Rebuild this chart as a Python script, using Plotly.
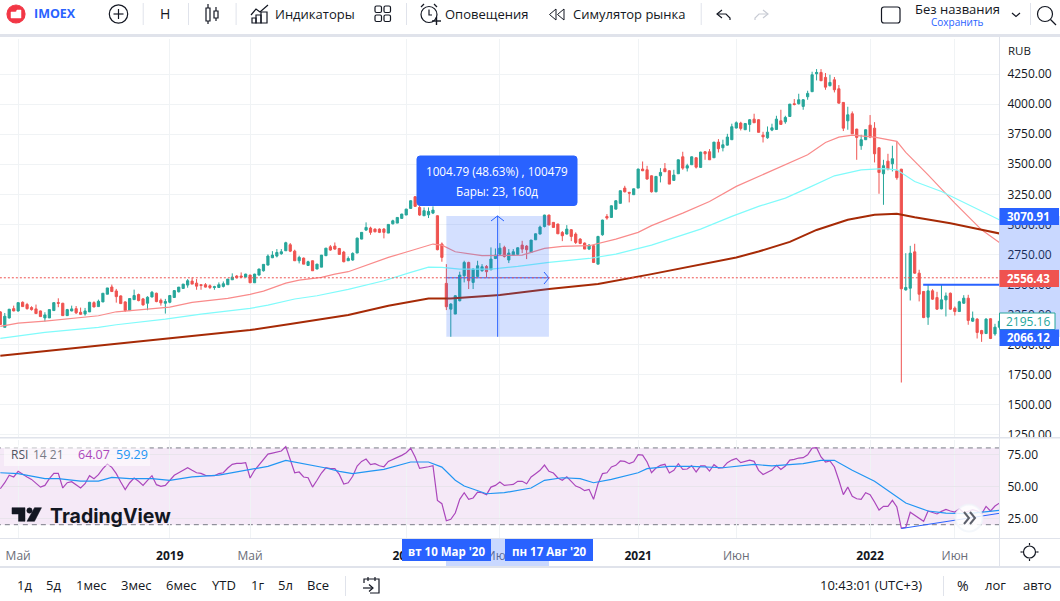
import plotly.graph_objects as go

W, H = 1060, 601
UI_FONT = "Open Sans"

# weekly IMOEX candles
opens = [2273,2145,2223,2300,2281,2353,2334,2309,2298,2281,2223,2223,2284,2350,2345,2242,2281,2300,2270,2256,
         2273,2350,2317,2356,2420,2480,2447,2406,2356,2284,2375,2417,2381,2345,2397,2428,2370,2345,2353,2393,
         2440,2468,2496,2529,2512,2499,2499,2490,2476,2476,2485,2499,2540,2571,2571,2562,2579,2515,2579,2615,
         2662,2723,2737,2756,2781,2831,2778,2698,2720,2659,2698,2629,2645,2740,2814,2820,2800,2770,2698,2704,
         2762,2878,2953,2970,2961,2961,2961,2928,3005,3011,3050,3078,3133,3230,3141,3072,3080,3094,3072,2837,
         2510,2296,2255,2366,2574,2684,2518,2568,2615,2651,2623,2717,2753,2809,2704,2745,2751,2828,2820,2767,
         2872,2920,2983,3078,3017,3003,2933,2920,2956,2920,2878,2845,2795,2823,2670,2914,3066,3058,3127,3175,
         3302,3266,3247,3302,3460,3454,3404,3271,3404,3463,3446,3366,3421,3562,3468,3496,3554,3474,3604,3604,
         3554,3684,3637,3659,3704,3801,3842,3787,3831,3875,3870,3742,3720,3784,3789,3861,3853,3897,4003,4003,
         3981,4061,4103,4252,4263,4222,4153,4202,4127,4014,3861,3920,3792,3654,3704,3825,3800,3637,3421,3526,
         3504,3446,3459,2456,2470,2772,2595,2443,2229,2448,2392,2298,2373,2428,2304,2276,2345,2387,2196,2213,
         2118,2093,2216,2090,2146]
highs = [2280,2264,2298,2325,2350,2360,2348,2320,2334,2284,2270,2292,2352,2386,2348,2298,2325,2322,2309,2306,
         2356,2361,2375,2428,2472,2500,2464,2410,2361,2384,2458,2425,2389,2403,2447,2433,2384,2381,2413,2454,
         2479,2504,2546,2560,2546,2504,2512,2501,2490,2518,2526,2546,2593,2579,2601,2590,2582,2590,2632,2668,
         2751,2778,2795,2795,2856,2845,2790,2740,2725,2698,2700,2672,2745,2803,2828,2850,2805,2780,2734,2768,
         2890,2936,3017,2981,2967,2967,2970,3002,3039,3060,3088,3130,3200,3235,3155,3141,3141,3150,3075,2850,
         2670,2346,2413,2607,2698,2690,2634,2698,2670,2662,2809,2800,2845,2823,2795,2795,2809,2864,2828,2870,
         2925,2990,3080,3080,3020,3006,2945,2994,2961,2934,2886,2850,2836,2828,2905,3039,3086,3158,3200,3282,
         3321,3271,3298,3463,3523,3487,3408,3402,3468,3510,3450,3454,3540,3604,3504,3565,3558,3604,3607,3626,
         3684,3709,3704,3753,3837,3856,3853,3842,3875,3920,3875,3770,3814,3837,3903,3953,3903,4000,4042,4086,
         4042,4111,4269,4291,4291,4258,4244,4225,4158,4017,3978,3939,3795,3745,3790,3909,3850,3640,3537,3587,
         3654,3690,3462,2761,2822,2839,2623,2445,2498,2462,2440,2498,2434,2434,2318,2365,2412,2415,2276,2221,
         2124,2221,2221,2174,2200]
lows = [2165,2145,2218,2278,2275,2315,2292,2284,2259,2234,2193,2223,2284,2312,2242,2242,2278,2256,2248,2242,
        2273,2312,2317,2354,2420,2442,2350,2342,2273,2284,2375,2361,2325,2287,2394,2353,2325,2259,2345,2390,
        2435,2465,2474,2504,2457,2457,2476,2463,2457,2476,2476,2499,2540,2551,2554,2560,2515,2515,2575,2608,
        2660,2720,2726,2748,2781,2770,2698,2676,2670,2656,2615,2629,2645,2738,2781,2790,2751,2685,2698,2698,
        2762,2876,2947,2914,2934,2928,2884,2928,3000,3011,3050,3078,3133,3145,3072,3072,3053,3086,2785,2690,
        2288,2066,2255,2360,2518,2463,2463,2560,2607,2560,2620,2712,2740,2725,2679,2740,2745,2762,2712,2767,
        2872,2918,2975,2995,2975,2922,2861,2917,2861,2837,2836,2795,2787,2679,2670,2906,3039,3058,3127,3175,
        3266,3183,3247,3302,3443,3372,3265,3268,3349,3436,3335,3366,3421,3454,3440,3496,3465,3474,3537,3537,
        3554,3598,3607,3656,3704,3798,3781,3787,3770,3845,3765,3681,3712,3775,3789,3831,3837,3897,3989,3997,
        3953,4036,4103,4197,4194,4119,4147,4097,4006,3776,3787,3753,3537,3620,3704,3717,3515,3255,3163,3449,
        3440,3371,1686,2450,2368,2590,2360,2221,2165,2373,2290,2295,2235,2290,2243,2276,2340,2166,2190,2052,
        2024,2090,2047,2075,2140]
closes = [2168,2237,2295,2281,2350,2317,2300,2292,2259,2234,2248,2292,2350,2345,2242,2292,2298,2265,2253,2281,
          2353,2314,2361,2428,2472,2442,2400,2342,2284,2384,2409,2367,2331,2395,2436,2359,2348,2359,2409,2450,
          2479,2504,2532,2504,2487,2493,2479,2476,2482,2499,2507,2546,2562,2557,2562,2587,2515,2587,2629,2668,
          2737,2745,2767,2773,2848,2778,2698,2726,2670,2690,2615,2670,2745,2803,2787,2795,2751,2690,2717,2759,
          2886,2934,2975,2934,2939,2934,2934,3000,3030,3058,3086,3127,3197,3150,3078,3114,3108,3119,2790,2726,
          2316,2338,2407,2579,2684,2532,2629,2656,2648,2607,2712,2745,2803,2734,2762,2773,2806,2795,2790,2870,
          2922,2978,3078,2995,2975,2922,2906,2961,2900,2850,2842,2795,2828,2684,2900,3036,3053,3155,3197,3280,
          3271,3260,3296,3460,3446,3377,3271,3399,3432,3438,3335,3410,3537,3468,3488,3562,3476,3601,3587,3537,
          3684,3629,3662,3726,3812,3845,3798,3839,3870,3845,3765,3728,3767,3803,3875,3831,3889,4000,3997,4036,
          4036,4089,4244,4263,4194,4141,4180,4119,4008,3800,3911,3753,3723,3704,3787,3726,3587,3432,3488,3460,
          3546,3388,2465,2476,2761,2595,2420,2226,2448,2379,2296,2373,2406,2296,2276,2357,2387,2202,2221,2102,
          2091,2213,2052,2146,2195.16]
bar_idx = list(range(len(closes)))

# moving averages, vertices taken along each line
red_ma_x = [0,4,10,19,22,26,34,38,43,51,56,59,64,67,72,75,78,87,92,97,99,102,108,113,117,122,126,132,138,143,146,
            153,159,165,170,175,181,185,188,191,196,201,203,208,214,220,224]
red_ma_y = [2152,2180,2197,2227,2241,2274,2296,2313,2352,2385,2418,2446,2512,2537,2560,2587,2607,2726,2781,2837,2828,
            2773,2740,2740,2745,2801,2817,2823,2878,2934,2990,3094,3191,3316,3399,3476,3579,3681,3726,3742,3726,3690,
            3598,3412,3177,2955,2850]
cyan_ma_x = [0,10,22,26,37,45,56,60,66,71,78,86,92,96,99,103,110,116,123,132,138,146,157,164,170,176,181,187,193,198,
             201,205,211,214,220,224]
cyan_ma_y = [2053,2102,2144,2166,2213,2255,2302,2330,2380,2407,2460,2532,2601,2645,2643,2629,2629,2651,2684,2717,2753,
             2828,2961,3067,3150,3219,3302,3404,3454,3463,3454,3357,3274,3218,3107,3038]
dark_ma_x = [0,11,22,37,56,65,78,87,96,101,112,123,134,146,155,165,170,177,183,190,196,201,205,213,220,224]
dark_ma_y = [1909,1950,1997,2047,2122,2172,2247,2324,2385,2385,2413,2463,2504,2587,2650,2725,2775,2855,2954,3039,3080,
             3089,3060,3010,2955,2925]

rsi_values = [48.1,52.8,58.6,57.3,61.7,59.3,57.3,55.4,52.6,49.4,50.7,56.0,60.1,60.1,48.7,52.8,53.6,51.3,48.7,52.0,
              58.3,56.0,59.1,63.8,67.4,64.8,59.9,53.4,47.4,52.8,56.5,53.9,50.7,54.7,58.3,51.3,50.0,50.7,54.7,58.6,
              60.6,62.7,64.5,62.5,60.6,60.1,58.6,58.3,58.3,59.9,60.6,64.3,67.2,67.9,67.9,68.5,56.5,62.5,66.9,71.1,
              75.2,76.0,76.8,77.6,81.0,71.6,60.6,61.2,57.3,56.7,49.4,54.7,60.4,64.5,63.8,63.8,59.3,51.8,52.8,57.8,
              65.9,69.5,71.3,66.9,67.7,66.1,65.3,69.5,70.8,72.6,74.2,76.3,79.7,72.9,64.0,64.5,65.3,66.1,39.0,36.4,
              23.1,24.2,29.1,39.8,45.0,39.8,40.9,45.5,45.0,43.5,49.4,50.7,53.4,50.7,51.3,51.5,53.9,53.9,52.0,57.3,
              59.9,62.5,66.6,61.7,60.4,56.5,54.7,57.5,53.9,50.2,48.9,46.6,47.6,39.8,52.0,59.9,60.6,65.1,66.4,69.8,
              69.5,67.7,69.2,74.7,74.4,69.0,60.6,64.3,66.4,67.2,60.4,62.5,67.7,63.2,63.5,66.1,61.2,65.9,65.9,61.9,
              66.9,64.3,64.5,68.5,70.5,71.8,68.5,69.5,70.5,69.5,62.5,59.3,60.9,62.7,66.4,63.2,65.9,70.5,71.1,72.1,
              72.4,74.7,79.9,80.2,72.9,69.0,69.8,65.1,54.7,43.5,49.4,42.2,40.3,39.8,45.0,43.5,37.7,31.5,34.3,34.3,
              39.0,33.8,17.4,17.9,29.7,27.3,25.0,22.6,30.7,29.4,28.4,30.4,32.0,30.7,29.9,32.5,29.4,30.4,31.7,30.7,
              28.4,34.3,30.7,34.6,36.9]
rsi_ma_x = [0,4,7,10,13,18,22,25,29,34,38,43,49,55,60,64,70,73,76,79,83,86,92,96,99,102,104,109,113,119,122,126,130,133,
            137,143,145,150,155,162,169,173,180,184,187,191,196,200,203,208,212,217,224]
rsi_ma_y = [60.6,59.9,58.0,56.0,56.0,54.1,54.1,57.0,56.0,56.0,54.7,57.3,58.8,62.7,65.6,70.3,66.4,64.3,61.7,59.9,61.9,63.2,
            69.0,69.0,65.0,54.7,50.2,44.2,45.0,48.7,54.7,56.7,56.0,52.8,55.4,60.6,63.8,65.6,65.6,64.5,67.2,65.9,67.7,70.3,
            70.3,62.5,53.9,44.2,36.9,30.7,29.1,28.6,31.2]

price_ticks = [1250,1500,1750,2000,2250,2500,2750,3000,3250,3500,3750,4000,4250]
rsi_ticks = [25,50,75]
time_ticks = [4,38,56,91,112,143,165,195,214]
time_labels = ["Май","2019","Май","2020","Июн","2021","Июн","2022","Июн"]

# drawing objects on the chart
range_start, range_end = 100, 123
range_low, range_high = 2066.12, 3070.91
last_line = 2556.43
level_x = [206.9,224]
level_y = [2499,2499]
rsi_trend_x = [202,224]
rsi_trend_y = [17.0,28.9]


def px(x):
    return x / W


def py(y):
    return 1 - y / H


def poly(points, close=False):
    d = "M" + " L".join(f"{px(x):.5f},{py(y):.5f}" for x, y in points)
    return d + (" Z" if close else "")


def rrect(x0, y0, x1, y1, r=3):
    # rounded box, corners done with quadratic curves
    def q(a, b, c, d):
        return f"Q{px(a):.5f},{py(b):.5f} {px(c):.5f},{py(d):.5f}"
    return (f"M{px(x0 + r):.5f},{py(y0):.5f} L{px(x1 - r):.5f},{py(y0):.5f} {q(x1, y0, x1, y0 + r)} "
            f"L{px(x1):.5f},{py(y1 - r):.5f} {q(x1, y1, x1 - r, y1)} "
            f"L{px(x0 + r):.5f},{py(y1):.5f} {q(x0, y1, x0, y1 - r)} "
            f"L{px(x0):.5f},{py(y0 + r):.5f} {q(x0, y0, x0 + r, y0)} Z")


shapes = []
annots = []


def add_path(d, color="#131722", width=1.2, fill=None):
    shapes.append(dict(type="path", path=d, xref="paper", yref="paper", layer="above",
                       line=dict(color=color, width=width), fillcolor=fill or "rgba(0,0,0,0)"))


def add_rect(x0, y0, x1, y1, fill, line=None):
    shapes.append(dict(type="rect", xref="paper", yref="paper", layer="above",
                       x0=px(x0), x1=px(x1), y0=py(y0), y1=py(y1), fillcolor=fill,
                       line=dict(width=1 if line else 0, color=line or "rgba(0,0,0,0)")))


def add_circle(cx, cy, r, color="#131722", width=1.2, fill=None):
    shapes.append(dict(type="circle", xref="paper", yref="paper", layer="above",
                       x0=px(cx - r), x1=px(cx + r), y0=py(cy - r), y1=py(cy + r),
                       fillcolor=fill or "rgba(0,0,0,0)", line=dict(color=color, width=width)))


def add_text(x, y, text, size=13, color="#131722", anchor="center", family=UI_FONT):
    annots.append(dict(x=px(x), y=py(y), xref="paper", yref="paper", text=text, showarrow=False,
                       xanchor=anchor, yanchor="middle", font=dict(size=size, color=color, family=family)))


SEP = "#e0e3eb"
BLUE = "#2962ff"
RED = "#ef5350"
TEAL = "#26a69a"

# panel frame lines
add_rect(0, 34, W, 37, SEP)
add_rect(999, 438, W, 445, "#ffffff")
add_rect(0, 437, W, 438.5, SEP)
add_rect(0, 538, W, 539, SEP)
add_rect(0, 566, W, 568, SEP)
add_rect(999, 37, 1000, 566, SEP)

# top toolbar
for sx in [142.7, 188, 235.6, 406, 700.7, 1030]:
    add_rect(sx, 3, sx + 1, 25, SEP)
add_circle(16, 14, 9, color="#f23645", fill="#f23645")
add_path(poly([(11, 12), (16, 12), (17, 10), (21, 10), (21, 18), (11, 18)], True), color="#ffffff", width=0.5, fill="#ffffff")
add_text(32, 14, "<b>IMOEX</b>", 12.5, "#2962ff", "left")
add_circle(118.5, 14, 9.2)
add_path(poly([(113.5, 14), (123.5, 14)]))
add_path(poly([(118.5, 9), (118.5, 19)]))
add_text(165, 14, "Н", 14)
add_path(poly([(206, 8), (210, 8), (210, 21), (206, 21)], True))
add_path(poly([(208, 4), (208, 8)]))
add_path(poly([(208, 21), (208, 24)]))
add_path(poly([(214, 11), (218, 11), (218, 18), (214, 18)], True))
add_path(poly([(216, 7), (216, 11)]))
add_path(poly([(216, 18), (216, 21)]))
add_path(poly([(251, 15), (256, 9), (260, 12), (268, 5)]))
add_path(poly([(252, 18), (256, 18), (256, 23), (252, 23)], True))
add_path(poly([(256, 15), (261, 15), (261, 23), (256, 23)], True))
add_path(poly([(261, 12), (267, 12), (267, 23), (261, 23)], True))
add_text(314.5, 14, "Индикаторы", 13)
for gx, gy in [(375, 6), (384, 6), (375, 15), (384, 15)]:
    add_path(rrect(gx, gy, gx + 6.5, gy + 6.5, 1.5))
add_circle(429, 14.5, 8)
add_path(poly([(429, 9.5), (429, 15), (432, 15)]))
add_path(poly([(421, 7), (424, 4)]))
add_path(poly([(434, 4), (437, 7)]))
add_path(poly([(432, 21), (441, 21)]), width=1.4)
add_path(poly([(436.5, 17), (436.5, 25)]), width=1.4)
add_text(486.5, 14, "Оповещения", 13)
add_path(poly([(556, 9), (549.5, 14.5), (556, 20)], True), width=1)
add_path(poly([(564, 9), (557.5, 14.5), (564, 20)], True), width=1)
add_text(629, 14, "Симулятор рынка", 13)
add_path(poly([(722, 10), (717, 14), (722, 18)]))
add_path(poly([(717, 14), (726, 14), (730, 18), (730, 20)]))
add_path(poly([(763, 10), (768, 14), (763, 18)]), color="#c8cbd4")
add_path(poly([(768, 14), (759, 14), (755, 18), (755, 20)]), color="#c8cbd4")
add_path(rrect(881.5, 7, 900, 23, 2.5))
add_text(957.5, 9.5, "Без названия", 13)
add_text(957.5, 22, "Сохранить", 10, BLUE)
add_path(poly([(1012, 13), (1016, 16.5), (1020, 13)]))
add_circle(1045, 14, 7.5)
add_path(poly([(1050.5, 19.5), (1056, 25)]))

# price axis overlays
add_text(1019, 50, "RUB", 11.5)
add_rect(999.5, 216, W, 337, "rgba(41,98,255,0.25)")
add_rect(999.5, 208, 1059, 225, BLUE)
add_text(1028.5, 216.5, "<b>3070.91</b>", 11.5, "#ffffff")
add_rect(999.5, 270, 1059, 287, RED)
add_text(1028.5, 278.5, "<b>2556.43</b>", 11.5, "#ffffff")
add_rect(999.5, 313, 1055, 329.5, "#ffffff", TEAL)
add_text(1028, 321.5, "2195.16", 12, TEAL)
add_rect(999.5, 329.5, 1059, 346, BLUE)
add_text(1028.5, 338, "<b>2066.12</b>", 11.5, "#ffffff")

# range measure arrows and tooltip
add_path(poly([(491, 221), (497.5, 216), (504, 221)]), BLUE, 1)
add_path(poly([(544, 272), (549, 278), (544, 284)]), BLUE, 1)
add_path(rrect(417, 156, 577, 205.5, 3), BLUE, 1, BLUE)
add_text(497, 171, "1004.79 (48.63%) , 100479", 11.7, "#ffffff")
add_text(497, 191, "Бары: 23, 160д", 11.7, "#ffffff")

# time axis overlays
add_rect(446, 539, 549, 566, "rgba(41,98,255,0.25)")
add_rect(402, 539, 491, 561, BLUE)
add_text(446.5, 551, "<b>вт 10 Мар '20</b>", 11.5, "#ffffff")
add_rect(505, 539, 593, 561, BLUE)
add_text(549, 551, "<b>пн 17 Авг '20</b>", 11.5, "#ffffff")
add_circle(1029.5, 552, 6)
for dx, dy in [(0, -9), (0, 9), (-9, 0), (9, 0)]:
    add_path(poly([(1029.5 + dx * 0.75, 552 + dy * 0.75), (1029.5 + dx, 552 + dy)]))

# RSI legend, logo, scroll button
add_rect(4, 445, 150, 466, "rgba(255,255,255,0.55)")
add_text(9, 454.5, "RSI", 12, "#50535e", "left")
add_text(31, 454.5, "14 21", 12, "#787b86", "left")
add_text(76, 454.5, "64.07", 12.5, "#ab47bc", "left")
add_text(114, 454.5, "59.29", 12.5, "#2196f3", "left")
add_path(poly([(12, 507.7), (25, 507.7), (25, 521.3), (18.5, 521.3), (18.5, 514), (12, 514)], True), "#131722", 0.5, "#131722")
add_circle(29.5, 510.5, 2.7, "#131722", 0.5, "#131722")
add_path(poly([(41.5, 507.7), (34.5, 507.7), (27, 521.3), (34.5, 521.3)], True), "#131722", 0.5, "#131722")
add_text(48, 516, "<b>TradingView</b>", 19.5, "#131722", "left", "Inter")
add_circle(969, 518, 13.5, "rgba(240,243,250,0.7)", 2, "rgba(255,255,255,0.85)")
add_path(poly([(964, 512), (969, 518), (964, 524)]), "#5d606b", 2)
add_path(poly([(970, 512), (975, 518), (970, 524)]), "#5d606b", 2)

# bottom toolbar
for tx, tt in zip([24, 53, 91, 136, 181, 224, 257, 285, 318],
                  ["1д", "5д", "1мес", "3мес", "6мес", "YTD", "1г", "5л", "Все"]):
    add_text(tx, 585, tt, 13)
add_rect(345, 576, 346, 596, SEP)
add_rect(943, 576, 944, 596, SEP)
add_path(poly([(364, 583), (364, 579), (379, 579), (379, 593), (370, 593)]))
add_path(poly([(363, 588), (372, 588)]))
add_path(poly([(369, 584.5), (373, 588), (369, 591.5)]))
add_path(poly([(368, 577), (368, 581)]))
add_path(poly([(375, 577), (375, 581)]))
add_text(871, 585, "10:43:01 (UTC+3)", 13)
add_text(963, 585, "%", 14)
add_text(995, 585, "лог", 13)
add_text(1037, 585, "авто", 13)

# shapes tied to the data axes
shapes += [
    dict(type="rect", xref="x2", yref="y2", layer="below", x0=-1, x1=225, y0=20, y1=80,
         fillcolor="#f5e9f7", line=dict(width=0)),
    dict(type="line", xref="x2", yref="y2", layer="below", x0=-1, x1=225, y0=80, y1=80,
         line=dict(color="#787b86", width=1, dash="5px,4px")),
    dict(type="line", xref="x2", yref="y2", layer="below", x0=-1, x1=225, y0=20, y1=20,
         line=dict(color="#787b86", width=1, dash="5px,4px")),
    dict(type="rect", xref="x", yref="y", layer="above", x0=range_start, x1=range_end,
         y0=range_low, y1=range_high, fillcolor="rgba(41,98,255,0.2)", line=dict(width=0)),
    dict(type="line", xref="x", yref="y", layer="above", x0=(range_start + range_end) / 2,
         x1=(range_start + range_end) / 2, y0=range_low, y1=range_high, line=dict(color=BLUE, width=1)),
    dict(type="line", xref="x", yref="y", layer="above", x0=range_start, x1=range_end,
         y0=last_line, y1=last_line, line=dict(color=BLUE, width=1)),
    dict(type="line", xref="x", yref="y", layer="above", x0=-1, x1=225, y0=last_line, y1=last_line,
         line=dict(color=RED, width=1, dash="2px,2px")),
]

fig = go.Figure()
fig.add_trace(go.Scatter(x=red_ma_x, y=red_ma_y, mode="lines", line=dict(color="#f98b8b", width=1.2), hoverinfo="skip"))
fig.add_trace(go.Scatter(x=cyan_ma_x, y=cyan_ma_y, mode="lines", line=dict(color="#80fbfb", width=1.2), hoverinfo="skip"))
fig.add_trace(go.Scatter(x=dark_ma_x, y=dark_ma_y, mode="lines", line=dict(color="#a62a06", width=2), hoverinfo="skip"))
fig.add_trace(go.Candlestick(x=bar_idx, open=opens, high=highs, low=lows, close=closes,
                             increasing=dict(line=dict(color=TEAL, width=1), fillcolor=TEAL),
                             decreasing=dict(line=dict(color=RED, width=1), fillcolor=RED),
                             whiskerwidth=0, hoverinfo="skip"))
fig.add_trace(go.Scatter(x=level_x, y=level_y, mode="lines", line=dict(color=BLUE, width=2), hoverinfo="skip"))
fig.add_trace(go.Scatter(x=bar_idx, y=rsi_values, xaxis="x2", yaxis="y2", mode="lines",
                         line=dict(color="#ab47bc", width=1.2), hoverinfo="skip"))
fig.add_trace(go.Scatter(x=rsi_ma_x, y=rsi_ma_y, xaxis="x2", yaxis="y2", mode="lines",
                         line=dict(color="#2196f3", width=1.2), hoverinfo="skip"))
fig.add_trace(go.Scatter(x=rsi_trend_x, y=rsi_trend_y, xaxis="x2", yaxis="y2", mode="lines",
                         line=dict(color=BLUE, width=1), hoverinfo="skip"))

GRID = "#f0f3f5"
x_labels = [f"<b>{t}</b>" if t.isdigit() else f"<span style='color:#6a6d78'>{t}</span>" for t in time_labels]
fig.update_layout(
    width=W, height=H, showlegend=False, paper_bgcolor="#ffffff", plot_bgcolor="#ffffff",
    margin=dict(l=0, r=0, t=0, b=0), font=dict(family=UI_FONT, size=12, color="#131722"),
    shapes=shapes, annotations=annots,
    xaxis=dict(domain=[0, 999 / W], range=[-0.07, 223.9], anchor="y", showticklabels=False, tickvals=time_ticks,
               showgrid=True, gridcolor=GRID, zeroline=False, rangeslider=dict(visible=False), ticks="",
               automargin=False),
    yaxis=dict(domain=[py(438), py(39)], range=[1225, 4541], side="right", anchor="x", tickvals=price_ticks,
               tickformat=".2f", gridcolor=GRID, zeroline=False, ticks="outside", ticklen=5,
               tickcolor="rgba(0,0,0,0)", tickfont=dict(size=12), automargin=False),
    xaxis2=dict(domain=[0, 999 / W], range=[-0.07, 223.9], anchor="y2", tickvals=time_ticks, ticktext=x_labels,
                gridcolor=GRID, zeroline=False, ticks="outside", ticklen=7, tickcolor="rgba(0,0,0,0)",
                tickfont=dict(size=12), automargin=False),
    yaxis2=dict(domain=[py(538), py(440)], range=[9.6, 86.2], side="right", anchor="x2", tickvals=rsi_ticks,
                tickformat=".2f", gridcolor="#e9e4ec", zeroline=False, ticks="outside", ticklen=5,
                tickcolor="rgba(0,0,0,0)", tickfont=dict(size=12), automargin=False),
)

fig.write_html("out.html", config=dict(displayModeBar=False), post_script="document.body.style.margin='0';")
